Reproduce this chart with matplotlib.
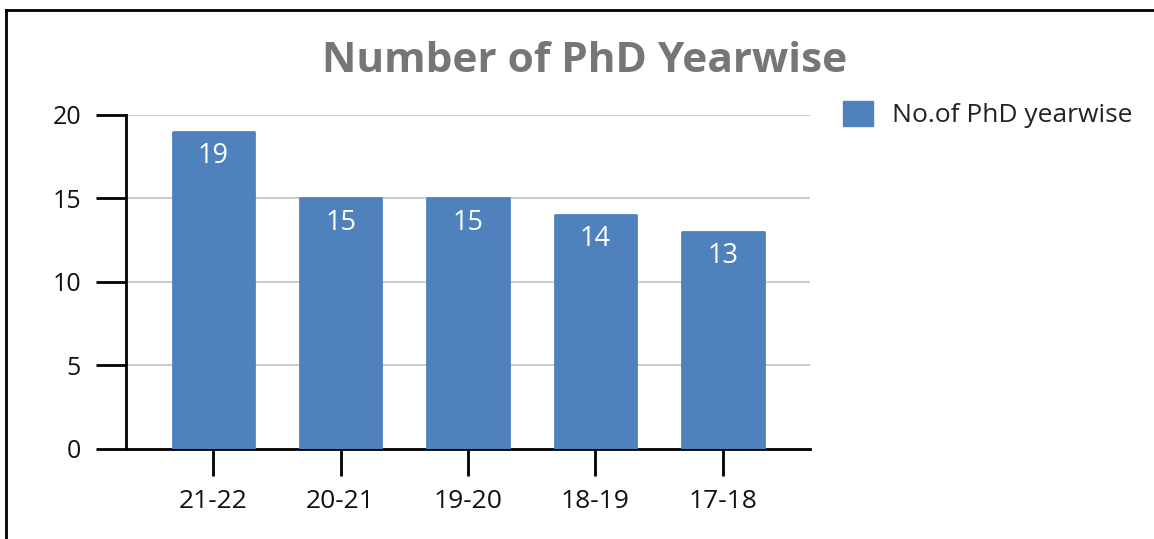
import matplotlib.pyplot as plt
from matplotlib.lines import Line2D
from matplotlib.patches import Patch

years = ['21-22', '20-21', '19-20', '18-19', '17-18']
phd_counts = [19, 15, 15, 14, 13]
series_name = 'No.of PhD yearwise'

plt.rcParams['font.family'] = ['Open Sans', 'DejaVu Sans']

bar_color = '#4F81BD'

fig = plt.figure(figsize=(11.54, 5.39), dpi=100)
ax = fig.add_axes([0.1092, 0.167, 0.5927, 0.6197])

x = range(len(years))
bars = ax.bar(x, phd_counts, width=0.64, color=bar_color, edgecolor=bar_color,
              linewidth=2, joinstyle='round', zorder=3)

for b, v in zip(bars, phd_counts):
    ax.annotate(str(v), (b.get_x() + b.get_width() / 2, v), xytext=(0, -17.5),
                textcoords='offset points', ha='center', va='center',
                color='white', fontsize=19.5, zorder=4)

ax.set_xlim(-0.685, len(years) - 1 + 0.685)
ax.set_ylim(0, 20)
ax.set_yticks([0, 5, 10, 15, 20])
ax.set_xticks(list(x))
ax.set_xticklabels(years)

ax.grid(axis='y', color='#cccccc', linewidth=1.5, zorder=0)
for s in ['top', 'right']:
    ax.spines[s].set_visible(False)
ax.spines['left'].set_linewidth(2)
ax.spines['bottom'].set_linewidth(2)
ax.tick_params(axis='y', length=21.5, width=2, pad=11, labelsize=18, labelcolor='#111111')
ax.tick_params(axis='x', length=19.5, width=2, pad=9, labelsize=19, labelcolor='#111111')

fig.text(0.507, 0.886, 'Number of PhD Yearwise', ha='center', va='center',
         fontsize=30.5, fontweight='bold', color='#767676')

handles = [Patch(facecolor=bar_color, edgecolor=bar_color, label=series_name)]
fig.legend(handles=handles, loc='center left', bbox_to_anchor=(0.710, 0.787),
           frameon=False, fontsize=19, handlelength=1.15, handleheight=1.05,
           handletextpad=0.7, labelcolor='#222222')

# outer border (left and top only visible)
fig.add_artist(Line2D([0.0052, 0.0052], [0, 0.9815], color='black', linewidth=2,
                      transform=fig.transFigure))
fig.add_artist(Line2D([0.0052, 1.0], [0.9815, 0.9815], color='black', linewidth=2,
                      transform=fig.transFigure))

fig.savefig('out.png', dpi=100)
